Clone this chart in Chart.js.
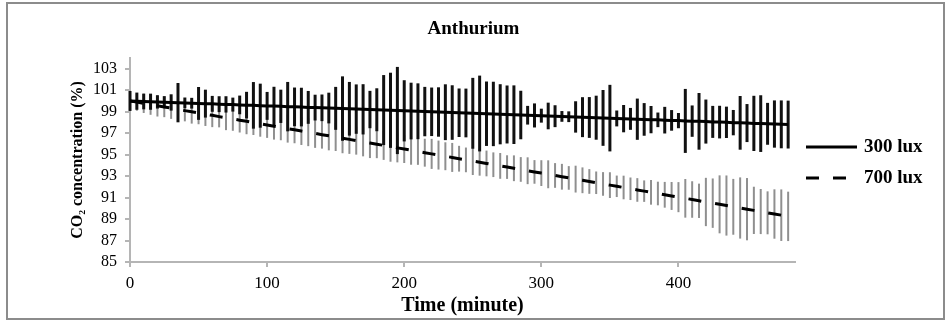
<!DOCTYPE html>
<html>
<head>
<meta charset="utf-8">
<title>Anthurium CO2</title>
<script src="https://cdn.jsdelivr.net/npm/chart.js@4.4.1/dist/chart.umd.min.js"></script>
<style>
  html, body { margin: 0; padding: 0; background: #fff; }
  #wrap { width: 947px; height: 322px; }
</style>
</head>
<body>
<div id="wrap"><canvas id="co2Chart"></canvas></div>
<script>
// time points (minutes), one reading every 5 minutes
const minutes = [0, 5, 10, 15, 20, 25, 30, 35, 40, 45, 50, 55, 60, 65, 70, 75, 80, 85, 90, 95,
  100, 105, 110, 115, 120, 125, 130, 135, 140, 145, 150, 155, 160, 165, 170, 175, 180, 185, 190, 195,
  200, 205, 210, 215, 220, 225, 230, 235, 240, 245, 250, 255, 260, 265, 270, 275, 280, 285, 290, 295,
  300, 305, 310, 315, 320, 325, 330, 335, 340, 345, 350, 355, 360, 365, 370, 375, 380, 385, 390, 395,
  400, 405, 410, 415, 420, 425, 430, 435, 440, 445, 450, 455, 460, 465, 470, 475, 480];

// 300 lux: mean CO2 (%) and error (+/-)
const mean300 = [100.00, 99.98, 99.95, 99.93, 99.91, 99.89, 99.86, 99.84, 99.82, 99.79,
  99.77, 99.75, 99.73, 99.70, 99.68, 99.66, 99.63, 99.61, 99.59, 99.56,
  99.54, 99.52, 99.50, 99.47, 99.45, 99.43, 99.40, 99.38, 99.36, 99.34,
  99.31, 99.29, 99.27, 99.24, 99.22, 99.20, 99.18, 99.15, 99.13, 99.11,
  99.08, 99.06, 99.04, 99.01, 98.99, 98.97, 98.95, 98.92, 98.90, 98.88,
  98.85, 98.83, 98.81, 98.79, 98.76, 98.74, 98.72, 98.69, 98.67, 98.65,
  98.63, 98.60, 98.58, 98.56, 98.53, 98.51, 98.49, 98.46, 98.44, 98.42,
  98.40, 98.37, 98.35, 98.33, 98.30, 98.28, 98.26, 98.24, 98.21, 98.19,
  98.17, 98.14, 98.12, 98.10, 98.08, 98.05, 98.03, 98.01, 97.98, 97.96,
  97.94, 97.91, 97.89, 97.87, 97.85, 97.82, 97.80];
const err300 = [0.93, 0.80, 0.73, 0.75, 0.62, 0.56, 0.76, 1.83, 0.50, 0.50,
  1.53, 1.30, 0.74, 0.74, 0.76, 0.65, 0.87, 1.24, 2.17, 2.05,
  1.30, 1.80, 1.55, 2.30, 1.80, 1.80, 1.53, 1.20, 1.24, 1.43,
  2.00, 3.00, 2.50, 2.30, 2.34, 1.74, 2.00, 3.26, 3.50, 4.06,
  2.85, 2.64, 2.60, 2.30, 2.26, 2.30, 2.60, 2.54, 2.26, 2.27,
  3.30, 3.53, 3.00, 3.00, 2.80, 2.70, 2.73, 2.26, 0.87, 1.12,
  0.65, 1.24, 1.02, 0.50, 0.50, 1.46, 1.86, 1.90, 2.05, 2.60,
  3.10, 0.74, 1.27, 1.02, 1.92, 1.52, 1.27, 0.68, 1.24, 0.96,
  0.71, 2.98, 1.46, 2.64, 2.05, 1.49, 1.52, 1.46, 1.18, 2.50,
  1.77, 2.57, 2.64, 1.95, 2.20, 2.23, 2.23];

// 700 lux: mean CO2 (%) and error (+/-)
const mean700 = [100.00, 99.89, 99.78, 99.66, 99.55, 99.44, 99.33, 99.22, 99.10, 98.99,
  98.88, 98.77, 98.66, 98.54, 98.43, 98.32, 98.21, 98.10, 97.98, 97.87,
  97.76, 97.65, 97.54, 97.42, 97.31, 97.20, 97.09, 96.98, 96.86, 96.75,
  96.64, 96.53, 96.42, 96.30, 96.19, 96.08, 95.97, 95.86, 95.74, 95.63,
  95.52, 95.41, 95.30, 95.18, 95.07, 94.96, 94.85, 94.74, 94.62, 94.51,
  94.40, 94.29, 94.18, 94.06, 93.95, 93.84, 93.73, 93.62, 93.50, 93.39,
  93.28, 93.17, 93.06, 92.94, 92.83, 92.72, 92.61, 92.50, 92.38, 92.27,
  92.16, 92.05, 91.94, 91.82, 91.71, 91.60, 91.49, 91.38, 91.26, 91.15,
  91.04, 90.93, 90.82, 90.70, 90.59, 90.48, 90.37, 90.26, 90.14, 90.03,
  89.92, 89.81, 89.70, 89.58, 89.47, 89.36, 89.25];
const err700 = [0.50, 0.80, 0.90, 0.95, 1.00, 0.95, 1.00, 1.05, 1.00, 1.10,
  1.05, 1.10, 1.10, 1.00, 1.15, 1.10, 1.15, 1.20, 1.15, 1.20,
  1.20, 1.25, 1.20, 1.30, 1.25, 1.30, 1.30, 1.35, 1.30, 1.35,
  1.30, 1.40, 1.35, 1.30, 1.35, 1.40, 1.30, 1.35, 1.40, 1.35,
  1.30, 1.35, 1.25, 1.30, 1.40, 1.35, 1.30, 1.35, 1.20, 1.15,
  1.30, 1.25, 1.20, 1.15, 1.20, 1.10, 1.20, 1.15, 1.25, 1.10,
  1.20, 1.30, 1.15, 1.20, 1.10, 1.25, 1.20, 1.15, 1.05, 1.10,
  1.20, 1.00, 1.10, 1.05, 1.10, 1.00, 1.15, 1.10, 1.20, 1.30,
  1.40, 1.80, 1.70, 1.60, 2.25, 2.30, 2.70, 2.80, 2.60, 2.85,
  2.90, 2.20, 2.10, 2.00, 2.30, 2.40, 2.30];

const xTicks = [0, 100, 200, 300, 400];
const yTicks = [85, 87, 89, 91, 93, 95, 97, 99, 101, 103];
const seriesNames = ['300 lux', '700 lux'];

const serif = '"Liberation Serif", "Times New Roman", serif';
const axisGrey = '#b5b5b5';
const dash700 = [13, 14];

function toPoints(xs, ys) {
  return xs.map((x, i) => ({ x: x, y: ys[i] }));
}

// vertical error bars, drawn under the lines
function drawErrorBars(ctx, xScale, yScale, means, errs, color, width) {
  ctx.strokeStyle = color;
  ctx.lineWidth = width;
  for (let i = 0; i < minutes.length; i++) {
    const px = xScale.getPixelForValue(minutes[i]);
    const top = yScale.getPixelForValue(means[i] + errs[i]);
    const bottom = yScale.getPixelForValue(means[i] - errs[i]);
    ctx.beginPath();
    ctx.moveTo(px, top);
    ctx.lineTo(px, bottom);
    ctx.stroke();
  }
}

const errorBarPlugin = {
  id: 'errorBars',
  beforeDatasetsDraw(chart) {
    const { ctx, scales } = chart;
    ctx.save();
    ctx.setLineDash([]);
    drawErrorBars(ctx, scales.x, scales.y, mean700, err700, '#8f8f8f', 2);
    drawErrorBars(ctx, scales.x, scales.y, mean300, err300, '#111111', 3);
    ctx.restore();
  }
};

// white background and the grey frame around the whole figure
const framePlugin = {
  id: 'frame',
  beforeDraw(chart) {
    const { ctx, width, height } = chart;
    ctx.save();
    ctx.fillStyle = '#ffffff';
    ctx.fillRect(0, 0, width, height);
    ctx.strokeStyle = '#8c8c8c';
    ctx.lineWidth = 2;
    ctx.strokeRect(7, 3, width - 10, height - 6);
    ctx.restore();
  }
};

// legend to the right of the plot
const sideLegendPlugin = {
  id: 'sideLegend',
  afterDraw(chart) {
    const { ctx, chartArea } = chart;
    const x0 = chartArea.right + 11;
    const rows = [147, 178];
    ctx.save();
    ctx.strokeStyle = '#000';
    ctx.lineWidth = 3;
    ctx.font = 'bold 19px ' + serif;
    ctx.fillStyle = '#000';
    ctx.textBaseline = 'middle';
    chart.data.datasets.forEach((ds, i) => {
      ctx.setLineDash(ds.borderDash || []);
      ctx.beginPath();
      ctx.moveTo(x0, rows[i]);
      ctx.lineTo(x0 + 51, rows[i]);
      ctx.stroke();
      ctx.setLineDash([]);
      ctx.fillText(ds.label, x0 + 58, rows[i]);
    });
    ctx.restore();
  }
};

const chart = new Chart(document.getElementById('co2Chart'), {
  type: 'line',
  data: {
    datasets: [
      {
        label: seriesNames[0],
        data: toPoints(minutes, mean300),
        borderColor: '#000',
        borderWidth: 3,
        pointRadius: 0,
        fill: false
      },
      {
        label: seriesNames[1],
        data: toPoints(minutes, mean700),
        borderColor: '#000',
        borderWidth: 3,
        borderDash: dash700,
        pointRadius: 0,
        fill: false
      }
    ]
  },
  options: {
    responsive: true,
    maintainAspectRatio: false,
    animation: false,
    events: [],
    layout: { padding: 0 },
    plugins: {
      legend: { display: false },
      tooltip: { enabled: false },
      title: {
        display: true,
        text: 'Anthurium',
        color: '#000',
        font: { family: serif, size: 19, weight: 'bold' },
        padding: { top: 18, bottom: 17.2 }
      }
    },
    scales: {
      x: {
        type: 'linear',
        min: 0,
        max: 485,
        afterBuildTicks: s => { s.ticks = xTicks.map(v => ({ value: v })); },
        afterFit: s => { s.height = 60; },
        grid: { drawOnChartArea: false, tickLength: 5, color: axisGrey, lineWidth: 2 },
        border: { color: axisGrey, width: 2 },
        ticks: { color: '#000', font: { family: serif, size: 17 }, padding: 6, maxRotation: 0, autoSkip: false },
        title: {
          display: true,
          text: 'Time (minute)',
          color: '#000',
          font: { family: serif, size: 20, weight: 'bold' },
          padding: { top: 0, bottom: 4 }
        }
      },
      y: {
        min: 85,
        max: 104,
        afterBuildTicks: s => { s.ticks = yTicks.map(v => ({ value: v })); },
        afterFit: s => { s.width = 130; },
        grid: { drawOnChartArea: false, tickLength: 5, color: axisGrey, lineWidth: 2 },
        border: { color: axisGrey, width: 2 },
        ticks: { color: '#000', font: { family: serif, size: 16 }, padding: 8, autoSkip: false },
        title: {
          display: true,
          text: 'CO₂ concentration (%)',
          color: '#000',
          font: { family: serif, size: 16, weight: 'bold' },
          padding: { top: 68, bottom: 0 }
        }
      },
      // empty right-hand axis, only keeps room for the legend
      yLegend: {
        position: 'right',
        afterFit: s => { s.width = 152; },
        grid: { display: false },
        border: { display: false },
        ticks: { display: false }
      }
    }
  },
  plugins: [framePlugin, errorBarPlugin, sideLegendPlugin]
});
</script>
</body>
</html>
